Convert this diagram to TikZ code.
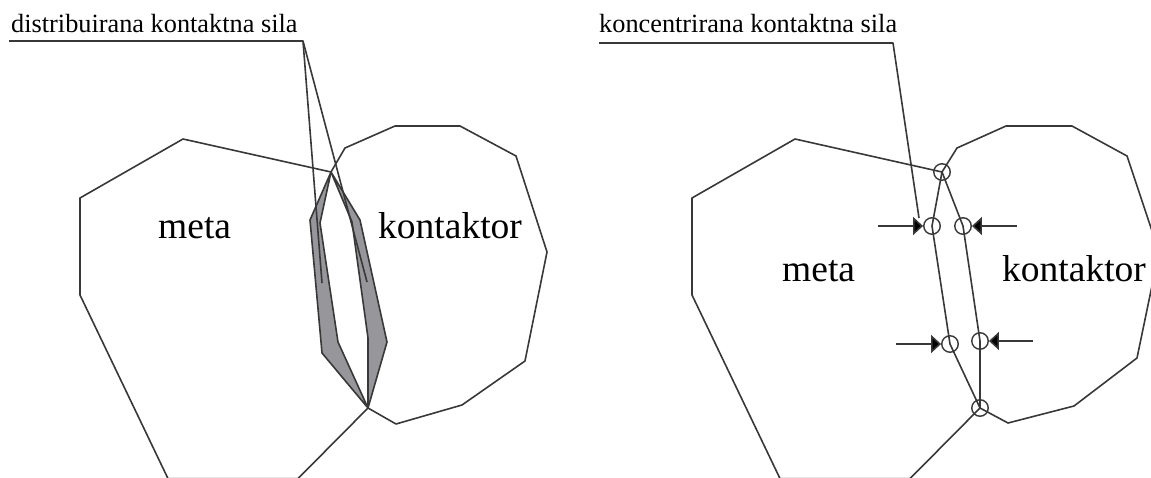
\documentclass[tikz,border=0pt]{standalone}
\usepackage{fontspec}
\setmainfont{Liberation Serif}
\usepackage{xcolor}
\usetikzlibrary{arrows.meta}
\definecolor{ink}{HTML}{383838}
\definecolor{wedge}{HTML}{97979B}
\tikzset{
  edgeline/.style={draw=ink, line width=1.6pt, line join=round},
  lens/.style={edgeline, fill=wedge},
  contact/.style={circle, draw=ink, line width=1.4pt, minimum size=16.5pt, inner sep=0pt},
  force/.style={-{Triangle[length=10pt, width=18pt, fill=black]}, draw=ink, line width=1.6pt},
  note/.style={anchor=base west, inner sep=0pt, text=black, font=\fontsize{26.3}{28}\selectfont},
  body/.style={anchor=base west, inner sep=0pt, text=black, font=\fontsize{37.5}{40}\selectfont},
}
\begin{document}
\begin{tikzpicture}[x=1pt, y=-1pt]
  \clip (0,0) rectangle (1151,478);

  % left part: distributed force
  \coordinate (topL) at (331,172);
  \coordinate (botL) at (368,408);
  \coordinate (bendL) at (303,41);
  \coordinate (tailL) at (9,41);
  \coordinate (endLa) at (322,283);
  \coordinate (endLb) at (367,282);
  \draw[edgeline] (botL) -- (298,478.6) -- (168,478.6) -- (80,295) -- (80,198) -- (183,139) -- (topL);
  \draw[edgeline] (botL) -- (396,424) -- (462,405) -- (525,361) -- (547,252) -- (516,156)
    -- (460,126) -- (395,126) -- (345,148) -- (topL);
  \draw[lens] (topL) -- (310,220) -- (322,353) -- (botL) -- (338,342) -- (320,223) -- cycle;
  \draw[lens] (topL) -- (360,220) -- (387,342) -- (botL) -- (368,338) -- (352,222) -- cycle;
  \draw[edgeline] (tailL) -- (bendL) -- (endLa);
  \draw[edgeline] (bendL) -- (endLb);
  \node[note] (distLabel) at (11,33) {distribuirana kontaktna sila};
  \node[body] (metaL) at (158,239) {meta};
  \node[body] (kontL) at (378,239) {kontaktor};

  % right part: concentrated force
  \node[contact] (topR) at (942,172) {};
  \node[contact] (botR) at (980,408) {};
  \node[contact] (c1) at (932,226) {};
  \node[contact] (c2) at (963,226) {};
  \node[contact] (c3) at (950,344) {};
  \node[contact] (c4) at (980,341) {};
  \coordinate (bendR) at (893,43);
  \coordinate (tailR) at (599,43);
  \coordinate (endR) at (919,218);
  \coordinate (f1) at (878,226);
  \coordinate (f2) at (1017,226);
  \coordinate (f3) at (896,344);
  \coordinate (f4) at (1033,341);
  \draw[edgeline] (botR.center) -- (910,478.6) -- (780,478.6) -- (692,295) -- (692,198) -- (795,139) -- (topR.center);
  \draw[edgeline] (botR.center) -- (1008,423) -- (1074,406) -- (1137,358) -- (1159,252) -- (1127,156)
    -- (1072,126) -- (1006,126) -- (957,148) -- (topR.center);
  \draw[edgeline] (topR.center) -- (c1.center) -- (c3.center) -- (botR.center);
  \draw[edgeline] (topR.center) -- (c2.center) -- (c4.center) -- (botR.center);
  \draw[edgeline] (tailR) -- (bendR) -- (endR);
  \draw[force] (f1) -- (c1);
  \draw[force] (f2) -- (c2);
  \draw[force] (f3) -- (c3);
  \draw[force] (f4) -- (c4);
  \node[note] (concLabel) at (599,33) {koncentrirana kontaktna sila};
  \node[body] (metaR) at (782,282) {meta};
  \node[body] (kontR) at (1002,282) {kontaktor};
\end{tikzpicture}
\end{document}
